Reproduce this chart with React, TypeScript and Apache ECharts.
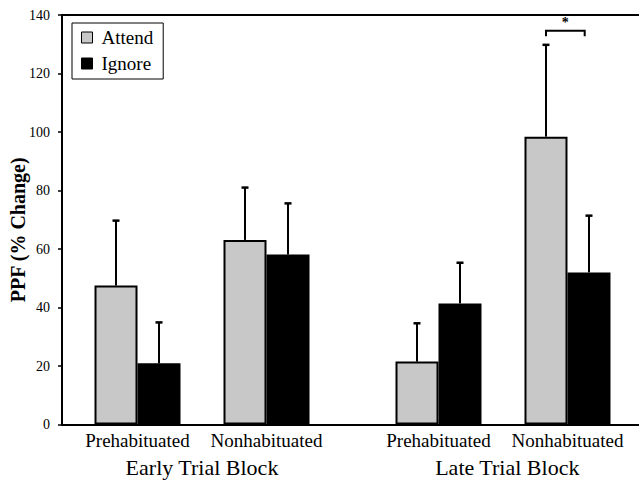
import React, { useEffect, useRef } from "react";
import * as echarts from "echarts";

const categoryLabels = ["Prehabituated", "Nonhabituated", "Prehabituated", "Nonhabituated"];
const groupPositions = [0, 3, 7, 10];
const blockLabels = ["Early Trial Block", "Late Trial Block"];
const blockPositions = [1.5, 8.6];
const attendMeans = [47.5, 63.1, 21.5, 98.4];
const ignoreMeans = [20.9, 58.1, 41.4, 52.0];
const attendErr = [22.2, 17.9, 13.1, 31.4];
const ignoreErr = [14.0, 17.5, 13.9, 19.4];
const yTicks = [0, 20, 40, 60, 80, 100, 120, 140];
const sigBracket = [9.5, 10.4, 134.6];
const sigLabel = "*";

const FONT = '"Liberation Serif", "Times New Roman", serif';
const X_MIN = -1.756;
const X_MAX = 11.663;

export default function App() {
  const ref = useRef<HTMLDivElement>(null);
  useEffect(() => {
    if (!ref.current) return;
    const chart = echarts.init(ref.current, null, { renderer: "svg" });
    const errData: number[][] = [];
    groupPositions.forEach((p, i) => {
      errData.push([p, attendMeans[i], attendErr[i], -0.5]);
      errData.push([p, ignoreMeans[i], ignoreErr[i], 0.5]);
    });
    chart.setOption({
      animation: false,
      backgroundColor: "#fff",
      textStyle: { fontFamily: FONT, color: "#000" },
      grid: { left: 62, right: 0, top: 15, bottom: 58.5, containLabel: false, outerBoundsMode: "none" },
      legend: {
        data: ["Attend", "Ignore"],
        orient: "vertical",
        left: 72,
        top: 23,
        padding: [5, 10, 6, 9],
        itemGap: 7,
        itemWidth: 11,
        itemHeight: 11,
        icon: "rect",
        borderColor: "#000",
        borderWidth: 1,
        itemStyle: { borderColor: "#000", borderWidth: 1 },
        textStyle: { fontFamily: FONT, fontSize: 19, color: "#000", lineHeight: 19, padding: [0, 0, 0, 4] },
      },
      xAxis: [
        {
          type: "value",
          min: X_MIN,
          max: X_MAX,
          position: "bottom",
          axisLine: { show: true, onZero: false, lineStyle: { color: "#000", width: 2 } },
          axisTick: { show: false },
          splitLine: { show: false },
          axisLabel: {
            customValues: groupPositions,
            formatter: (v: number) => {
              const i = groupPositions.indexOf(Math.round(v * 1000) / 1000);
              return i >= 0 ? categoryLabels[i] : "";
            },
            fontFamily: FONT,
            fontSize: 19,
            color: "#000",
            margin: 6,
          },
        },
        {
          type: "value",
          min: X_MIN,
          max: X_MAX,
          position: "bottom",
          axisLine: { show: false, onZero: false },
          axisTick: { show: false },
          splitLine: { show: false },
          axisLabel: {
            customValues: blockPositions,
            formatter: (v: number) => {
              const i = blockPositions.indexOf(Math.round(v * 1000) / 1000);
              return i >= 0 ? blockLabels[i] : "";
            },
            fontFamily: FONT,
            fontSize: 22,
            color: "#000",
            margin: 32,
          },
        },
        {
          type: "value",
          min: X_MIN,
          max: X_MAX,
          position: "top",
          axisLine: { show: true, onZero: false, lineStyle: { color: "#000", width: 2 } },
          axisTick: { show: false },
          axisLabel: { show: false },
          splitLine: { show: false },
        },
      ],
      yAxis: {
        type: "value",
        min: 0,
        max: 140,
        interval: 20,
        axisLine: { show: true, onZero: false, lineStyle: { color: "#000", width: 2 } },
        axisTick: { show: true, inside: false, length: 4, lineStyle: { color: "#000", width: 1.5 } },
        axisLabel: {
          customValues: yTicks,
          fontFamily: FONT,
          fontSize: 14,
          color: "#000",
          margin: 12,
        },
        splitLine: { show: false },
        name: "PPF (% Change)",
        nameLocation: "middle",
        nameRotate: 90,
        nameGap: 34,
        nameMoveOverlap: false,
        nameTextStyle: {
          fontFamily: FONT,
          fontSize: 20,
          fontWeight: "bold",
          color: "#000",
          padding: [0, 20, 0, 0],
        },
      },
      series: [
        {
          name: "Attend",
          type: "bar",
          xAxisIndex: 0,
          data: groupPositions.map((p, i) => [p, attendMeans[i]]),
          barWidth: 43,
          barGap: "0%",
          itemStyle: { color: "#c8c8c8", borderColor: "#000", borderWidth: 2 },
        },
        {
          name: "Ignore",
          type: "bar",
          xAxisIndex: 0,
          data: groupPositions.map((p, i) => [p, ignoreMeans[i]]),
          barWidth: 43,
          barGap: "0%",
          itemStyle: { color: "#000", borderColor: "#000", borderWidth: 2 },
        },
        {
          type: "custom",
          xAxisIndex: 0,
          data: errData,
          encode: { x: 0, y: 1 },
          clip: false,
          z: 5,
          itemStyle: { color: "#000" },
          renderItem: (params: any, api: any) => {
            const x = api.value(0) + api.value(3);
            const m = api.value(1);
            const e = api.value(2);
            const base = api.coord([x, m]);
            const top = api.coord([x, m + e]);
            return {
              type: "group",
              children: [
                {
                  type: "line",
                  shape: { x1: base[0], y1: base[1], x2: top[0], y2: top[1] },
                  style: { stroke: "#000", lineWidth: 2 },
                },
                {
                  type: "line",
                  shape: { x1: top[0] - 3.5, y1: top[1], x2: top[0] + 3.5, y2: top[1] },
                  style: { stroke: "#000", lineWidth: 2.5 },
                },
              ],
            };
          },
        },
        {
          type: "custom",
          xAxisIndex: 0,
          data: [sigBracket],
          encode: { x: 0, y: 2 },
          clip: false,
          z: 5,
          itemStyle: { color: "#000" },
          renderItem: (params: any, api: any) => {
            const a = api.coord([api.value(0), api.value(2)]);
            const b = api.coord([api.value(1), api.value(2)]);
            const leg = api.coord([api.value(0), api.value(2) - 1.9]);
            return {
              type: "group",
              children: [
                {
                  type: "polyline",
                  shape: {
                    points: [
                      [a[0], leg[1]],
                      [a[0], a[1]],
                      [b[0], b[1]],
                      [b[0], leg[1]],
                    ],
                  },
                  style: { stroke: "#000", lineWidth: 2, fill: null },
                },
                {
                  type: "text",
                  style: {
                    text: sigLabel,
                    x: (a[0] + b[0]) / 2,
                    y: a[1] - 1,
                    textAlign: "center",
                    textVerticalAlign: "bottom",
                    fontFamily: FONT,
                    fontSize: 14,
                    fontWeight: "bold",
                    fill: "#000",
                  },
                },
              ],
            };
          },
        },
      ],
    });
    return () => chart.dispose();
  }, []);
  return (
    <div
      ref={ref}
      style={{ position: "fixed", left: 0, top: 0, width: 639, height: 483, background: "#fff" }}
    />
  );
}
